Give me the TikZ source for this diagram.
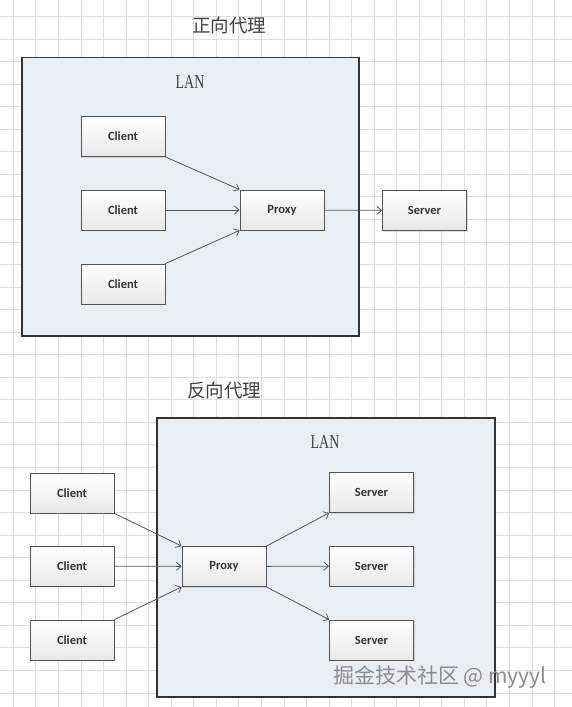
\documentclass[tikz,border=0pt]{standalone}
\usepackage{fontspec}
\setmainfont{Liberation Serif}
\newfontfamily\boxfont{Carlito}
\newfontfamily\cjk{Noto Sans CJK SC}
\usetikzlibrary{arrows.meta,shadows}
\definecolor{lanfill}{RGB}{233,237,244}
\definecolor{gridgray}{RGB}{222,222,222}
\definecolor{linegray}{RGB}{85,85,85}

\begin{document}
\begin{tikzpicture}[x=1pt, y=-1pt,
    gridline/.style={gridgray, line width=0.8pt},
    lanbox/.style={draw=black!80, line width=1.4pt, fill=lanfill},
    hostnode/.style={draw=linegray, line width=0.8pt, top color=white,
                     bottom color=black!9, minimum width=84pt, minimum height=40pt,
                     font=\boxfont\bfseries\fontsize{12.5}{14}\selectfont, text=black!80,
                     drop shadow={shadow xshift=1pt, shadow yshift=-1pt, opacity=0.25}},
    flow/.style={draw=linegray, line width=0.8pt, -{Straight Barb[length=4.5pt,width=8pt]}},
    title/.style={font=\cjk\fontsize{18.5}{20}\selectfont, text=black!75},
    lanlabel/.style={font=\fontsize{14}{16}\selectfont, text=black!75}]
\useasboundingbox (0,0) rectangle (572,707);
\fill[white] (0,0) rectangle (572,707);
% background grid
\foreach \i in {0,...,25}{
  \draw[gridline] (13.3+22.55*\i,0) -- (13.3+22.55*\i,707);
}
\foreach \j in {0,...,30}{
  \draw[gridline] (0,16.4+22.55*\j) -- (572,16.4+22.55*\j);
}

% forward proxy
\node[title] (fwdtitle) at (229,25) {正向代理};
\draw[lanbox] (22,57.5) rectangle (359,336);
\node[lanlabel] (fwdlan) at (190,82) {\scalebox{1}[1.4]{LAN}};
\node[hostnode] (fc1) at (123,136.5) {Client};
\node[hostnode] (fc2) at (123,210) {Client};
\node[hostnode] (fc3) at (123,284) {Client};
\node[hostnode] (fpx) at (282,210) {Proxy};
\node[hostnode] (fsv) at (424.5,210.5) {Server};
\draw[flow] (fc1.south east) -- (fpx.north west);
\draw[flow] (fc2) -- (fpx);
\draw[flow] (fc3.north east) -- (fpx.south west);
\draw[flow] (fpx) -- (fsv);

% reverse proxy
\node[title] (revtitle) at (224,390) {反向代理};
\draw[lanbox] (157,418) rectangle (495,697);
\node[lanlabel] (revlan) at (325,442) {\scalebox{1}[1.4]{LAN}};
\node[hostnode] (rc1) at (72,493) {Client};
\node[hostnode] (rc2) at (72,566) {Client};
\node[hostnode] (rc3) at (72,640) {Client};
\node[hostnode] (rpx) at (224,566.5) {Proxy};
\node[hostnode] (rs1) at (371.5,492.5) {Server};
\node[hostnode] (rs2) at (371.5,566) {Server};
\node[hostnode] (rs3) at (371.5,640) {Server};
\draw[flow] (rc1.south east) -- (rpx.north west);
\draw[flow] (rc2) -- (rpx);
\draw[flow] (rc3.north east) -- (rpx.south west);
\draw[flow] (rpx.north east) -- (rs1.south west);
\draw[flow] (rpx) -- (rs2);
\draw[flow] (rpx.south east) -- (rs3.north west);

\node[font=\cjk\fontsize{21}{23}\selectfont, text=black!45, anchor=west, inner sep=0pt] (mark) at (333,677) {掘金技术社区 @ myyyl};
\end{tikzpicture}
\end{document}
